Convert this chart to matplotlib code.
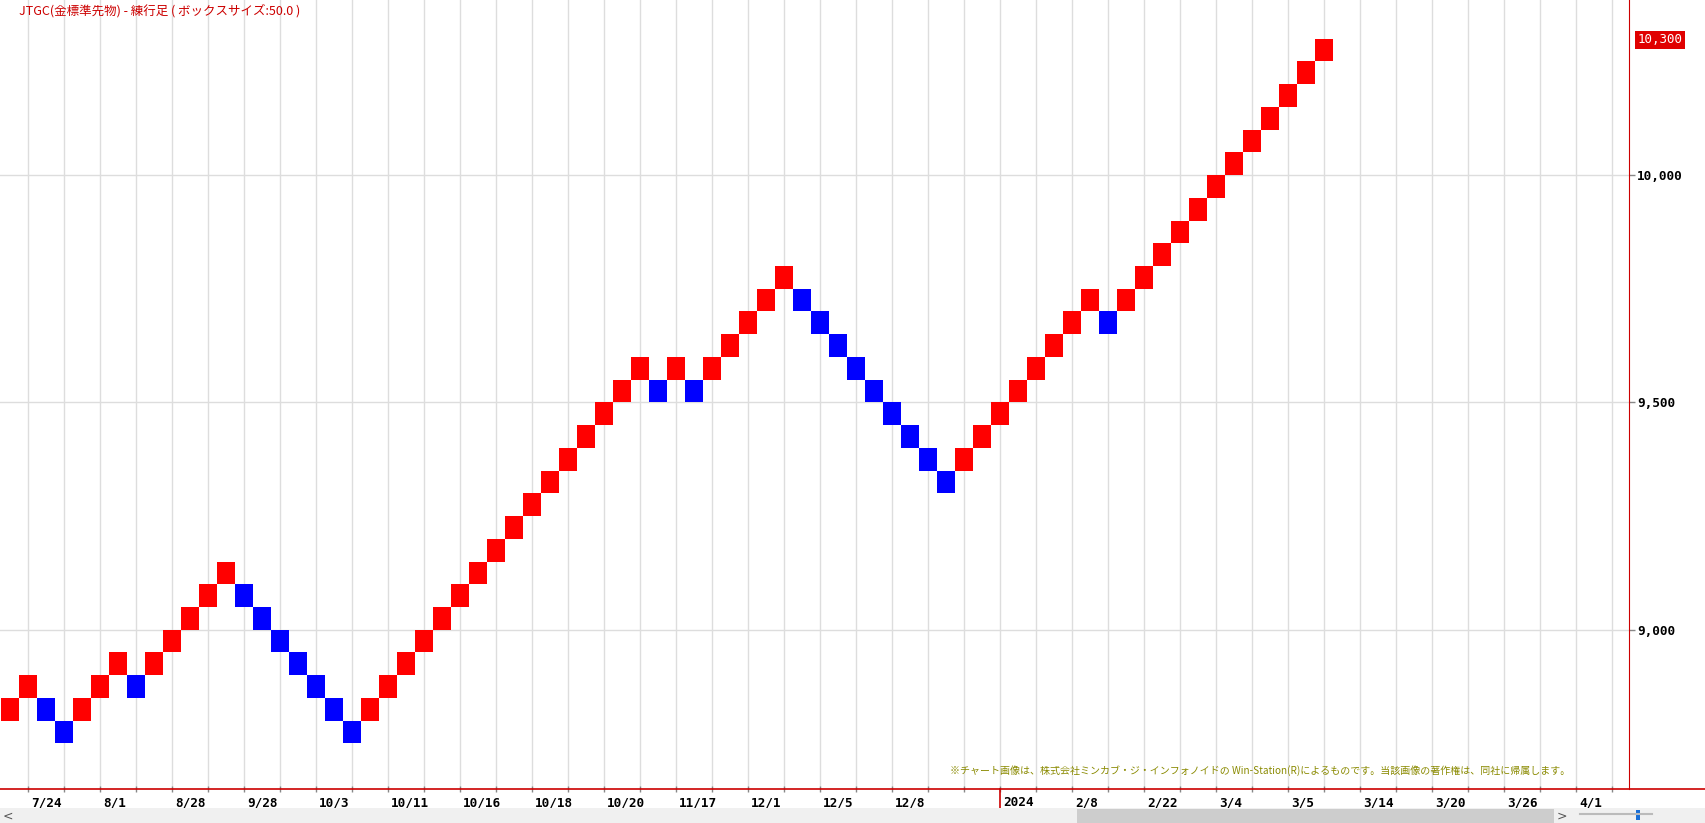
import matplotlib
matplotlib.use('Agg')
import matplotlib.pyplot as plt
from matplotlib.lines import Line2D
from matplotlib.patches import Rectangle
import matplotlib.transforms as mtransforms

# Renko bricks (box size 50): lower edge of each brick and its direction
box_size = 50
brick_low = [8800, 8850, 8800, 8750, 8800, 8850, 8900, 8850, 8900, 8950,
             9000, 9050, 9100, 9050, 9000, 8950, 8900, 8850, 8800, 8750,
             8800, 8850, 8900, 8950, 9000, 9050, 9100, 9150, 9200, 9250,
             9300, 9350, 9400, 9450, 9500, 9550, 9500, 9550, 9500, 9550,
             9600, 9650, 9700, 9750, 9700, 9650, 9600, 9550, 9500, 9450,
             9400, 9350, 9300, 9350, 9400, 9450, 9500, 9550, 9600, 9650,
             9700, 9650, 9700, 9750, 9800, 9850, 9900, 9950, 10000, 10050,
             10100, 10150, 10200, 10250]
brick_dir = ['u', 'u', 'd', 'd', 'u', 'u', 'u', 'd', 'u', 'u',
             'u', 'u', 'u', 'd', 'd', 'd', 'd', 'd', 'd', 'd',
             'u', 'u', 'u', 'u', 'u', 'u', 'u', 'u', 'u', 'u',
             'u', 'u', 'u', 'u', 'u', 'u', 'd', 'u', 'd', 'u',
             'u', 'u', 'u', 'u', 'd', 'd', 'd', 'd', 'd', 'd',
             'd', 'd', 'd', 'u', 'u', 'u', 'u', 'u', 'u', 'u',
             'u', 'd', 'u', 'u', 'u', 'u', 'u', 'u', 'u', 'u',
             'u', 'u', 'u', 'u']

date_labels = ['7/24', '8/1', '8/28', '9/28', '10/3', '10/11', '10/16', '10/18',
               '10/20', '11/17', '12/1', '12/5', '12/8', '2024', '2/8', '2/22',
               '3/4', '3/5', '3/14', '3/20', '3/26', '4/1']
price_ticks = [9000, 9500, 10000]
last_price = 10300

title = 'JTGC(金標準先物) - 練行足 ( ボックスサイズ:50.0 )'
note = '※チャート画像は、株式会社ミンカブ・ジ・インフォノイドの Win-Station(R)によるものです。当該画像の著作権は、同社に帰属します。'

W, H = 1706, 823
fig = plt.figure(figsize=(W / 100, H / 100), dpi=100)
fig.patch.set_facecolor('white')
ax = fig.add_axes([0, 33.7 / H, 1629 / W, 1 - 33.7 / H])

cols = list(range(len(brick_low)))
colors = ['#ff0000' if d == 'u' else '#0000ff' for d in brick_dir]
ax.bar(cols, [box_size] * len(cols), bottom=brick_low, width=1.0,
       color=colors, linewidth=0, zorder=3)

ax.set_xlim(-0.556, 89.94)
ax.set_ylim(8649, 10385)

# grid every two bricks, labels every two grid lines (shifted at the year break)
grid_cols = list(range(1, 90, 2))
label_cols = list(range(1, 50, 4)) + list(range(55, 90, 4))
for c in grid_cols:
    ax.axvline(c, color='#dddddd', lw=1, zorder=1)
for p in price_ticks:
    ax.axhline(p, color='#dddddd', lw=1, zorder=1)

ax.set_xticks(grid_cols)
ax.set_xticklabels([])
ax.tick_params(axis='x', length=5, width=1, color='#888888', direction='inout')
mono = ['DejaVu Sans Mono']
for c, lab in zip(label_cols, date_labels):
    ax.annotate(lab, xy=(c, 0), xycoords=('data', 'axes fraction'),
                xytext=(3, -7), textcoords='offset pixels', ha='left', va='top',
                fontsize=9.2, fontweight='bold', family=mono, color='black')

# red year-break tick under 2024
yr = label_cols[date_labels.index('2024')]
trans = mtransforms.blended_transform_factory(ax.transData, ax.transAxes)
ax.add_line(Line2D([yr, yr], [0, -19 / 789.3], transform=trans,
                   color='#cc0000', lw=1.2, clip_on=False))

ax.yaxis.tick_right()
ax.set_yticks(price_ticks)
ax.set_yticklabels([f'{p:,}' for p in price_ticks], fontsize=9.2,
                   fontweight='bold', family=mono)
ax.tick_params(axis='y', length=4, width=1, color='#888888', pad=2)

for s in ['top', 'left']:
    ax.spines[s].set_visible(False)
ax.spines['right'].set_color('#cc0000')
ax.spines['bottom'].set_visible(False)
fig.add_artist(Line2D([0, 1], [33.7 / H, 33.7 / H], color='#cc0000', lw=1.2))

ax.annotate(f'{last_price:,}', xy=(1, last_price), xycoords=('axes fraction', 'data'),
            xytext=(9, -1), textcoords='offset pixels', ha='left', va='center',
            fontsize=9, family=mono, color='white',
            bbox=dict(boxstyle='square,pad=0.2', fc='#e00000', ec='none'))

fig.text(19 / W, 1 - 11 / H, title, ha='left', va='center', fontsize=9,
         color='#cc0000', family=['Noto Sans CJK JP', 'DejaVu Sans'])
fig.text(1570 / W, 1 - 771 / H, note, ha='right', va='center', fontsize=7.2,
         color='#8a8a00', family=['Noto Sans CJK JP', 'DejaVu Sans'])

# scrollbar strip at the bottom
fig.add_artist(Rectangle((0, 0), 1, 15 / H, transform=fig.transFigure,
                         fc='#f0f0f0', ec='none'))
fig.add_artist(Rectangle((1077 / W, 0), 477 / W, 14 / H, transform=fig.transFigure,
                         fc='#cdcdcd', ec='none'))
fig.text(8 / W, 7 / H, '<', ha='center', va='center', fontsize=9, color='#555555')
fig.text(1562 / W, 7 / H, '>', ha='center', va='center', fontsize=9, color='#555555')
fig.add_artist(Line2D([1580 / W, 1652 / W], [9 / H, 9 / H], color='#bbbbbb', lw=1.5))
fig.add_artist(Rectangle((1636 / W, 3 / H), 4 / W, 10 / H, transform=fig.transFigure,
                         fc='#1a6fd6', ec='none'))

fig.savefig('out.png', dpi=100)
